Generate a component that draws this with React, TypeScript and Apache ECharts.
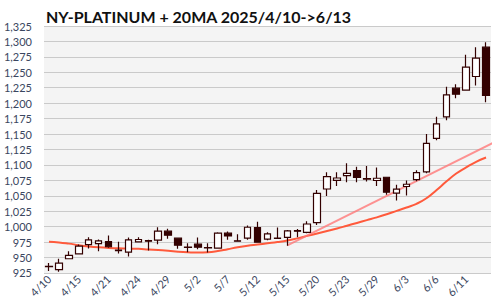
import React, { useEffect, useRef } from "react";
import * as echarts from "echarts";

const dates = [
  "4/10", "4/11", "4/14", "4/15", "4/16", "4/17", "4/21", "4/22", "4/23", "4/24",
  "4/25", "4/28", "4/29", "4/30", "5/1", "5/2", "5/5", "5/6", "5/7", "5/8",
  "5/9", "5/12", "5/13", "5/14", "5/15", "5/16", "5/19", "5/20", "5/21", "5/22",
  "5/23", "5/27", "5/28", "5/29", "5/30", "6/2", "6/3", "6/4", "6/5", "6/6",
  "6/9", "6/10", "6/11", "6/12", "6/13",
];

// [open, close, low, high]
const opens = [
  935.5, 930.5, 948, 955.8, 971, 972.4, 975.7, 962, 958.6, 975.4,
  977.5, 978, 992.7, 981.3, 966.7, 971.6, 966.2, 965.1, 989.4, 977,
  981.3, 998.6, 979.7, 981.3, 982.7, 993.5, 990.8, 1006.5, 1061, 1075,
  1082.6, 1090.7, 1078, 1074.7, 1080, 1054.2, 1065, 1076.3, 1088.7, 1143,
  1177.9, 1224.3, 1221, 1243.2, 1290.7,
];
const closes = [
  935, 941, 953.6, 968.5, 978.4, 976.8, 967.4, 961, 978.6, 979.2,
  976.5, 992.7, 986.2, 970, 966.2, 966.7, 965.7, 989.4, 985, 976.5,
  999, 974.8, 988.3, 980.8, 993, 992.5, 1004.3, 1054, 1081, 1078.8,
  1086.4, 1079.9, 1077, 1078.4, 1055.8, 1060.7, 1068.7, 1087.6, 1135, 1166.3,
  1213.5, 1214.6, 1258.3, 1272.9, 1212.4,
];
const lows = [
  928, 927, 947, 954.7, 964.6, 960, 965.7, 956.4, 951.6, 974.3,
  961.3, 971.6, 980.2, 964, 958.6, 963.5, 958.1, 965, 978.6, 976,
  978.6, 974, 978, 980.2, 969.2, 982.7, 989.2, 1002.7, 1049.7, 1065.9,
  1071.8, 1071.8, 1073, 1066, 1051.5, 1042.3, 1050.4, 1073.6, 1086.5, 1139.9,
  1172.5, 1208, 1220, 1228.6, 1201.6,
];
const highs = [
  941, 948, 960, 971, 983, 979, 985.6, 975.7, 982.4, 983,
  978.6, 999, 996.4, 981.5, 973.2, 982.4, 973.2, 991, 992, 987.8,
  1001.8, 1008, 991, 998.6, 994.6, 996.2, 1008.6, 1059.4, 1088, 1088,
  1102.6, 1097.2, 1098.4, 1095.7, 1080, 1067.7, 1074.7, 1091.4, 1150, 1178,
  1226.5, 1230.8, 1278.3, 1290.7, 1298.8,
];

const ma20 = [
  975.5, 974.5, 972.5, 970, 968, 966.5, 965.5, 965, 964.5, 964,
  963, 962, 961, 959.5, 958.5, 958, 958.5, 960.5, 963.5, 966.5,
  969, 971, 973, 975, 977.5, 981, 985, 989, 993, 997,
  1001.5, 1006, 1010.5, 1015, 1020, 1025.5, 1031, 1037, 1046, 1059,
  1073, 1086, 1096, 1105, 1112,
];

// trend line: [category position, price]
const trendX = [24, 45.42];
const trendY = [969.5, 1141.5];

const yTicks = { min: 925, max: 1325, step: 25 };

const title = "NY-PLATINUM + 20MA 2025/4/10->6/13";

export default function App() {
  const ref = useRef<HTMLDivElement>(null);
  useEffect(() => {
    if (!ref.current) return;
    const chart = echarts.init(ref.current, undefined, { renderer: "svg" });
    const candle = dates.map((_, i) => [opens[i], closes[i], lows[i], highs[i]]);
    const trend = trendX.map((x, i) => [x, trendY[i]]);
    chart.setOption({
      animation: false,
      title: {
        text: title,
        left: 41,
        top: 3,
        textStyle: {
          fontFamily: "Lato",
          fontWeight: "bold",
          fontSize: 16,
          color: "#111",
        },
      },
      grid: { left: 44, right: 9, top: 26, bottom: 27, backgroundColor: "#f4f4f4", show: true, borderWidth: 0 },
      xAxis: [
        {
          type: "category",
          data: dates,
          boundaryGap: true,
          axisLine: { show: false },
          axisTick: { show: false },
          axisLabel: {
            interval: 2,
            rotate: 45,
            fontFamily: "Lato",
            fontSize: 11,
            color: "#3a4660",
            margin: 4,
          },
        },
        {
          type: "value",
          min: -0.5,
          max: 44.5,
          show: false,
        },
      ],
      yAxis: {
        type: "value",
        min: yTicks.min,
        max: yTicks.max,
        interval: yTicks.step,
        axisLine: { show: false },
        axisTick: { show: false },
        splitLine: { lineStyle: { color: "#cacaca", width: 1 } },
        axisLabel: {
          fontFamily: "Lato",
          fontSize: 11,
          color: "#3a4660",
          margin: 12,
          formatter: (v: number) => v.toLocaleString("en-US"),
        },
      },
      series: [
        {
          type: "line",
          data: ma20,
          smooth: true,
          symbol: "none",
          lineStyle: { color: "#ff5a3c", width: 2 },
          z: 3,
        },
        {
          type: "line",
          xAxisIndex: 1,
          data: trend,
          symbol: "none",
          clip: false,
          lineStyle: { color: "#ff7878", width: 2, opacity: 0.8 },
          z: 3,
        },
        {
          type: "candlestick",
          data: candle,
          barWidth: 7,
          itemStyle: {
            color: "#ffffff",
            color0: "#330000",
            borderColor: "#330000",
            borderColor0: "#330000",
            borderWidth: 1.2,
          },
          z: 4,
        },
      ],
    });
    return () => chart.dispose();
  }, []);
  return (
    <div
      ref={ref}
      style={{ position: "fixed", left: 0, top: 0, width: 500, height: 300, background: "#fff" }}
    />
  );
}
